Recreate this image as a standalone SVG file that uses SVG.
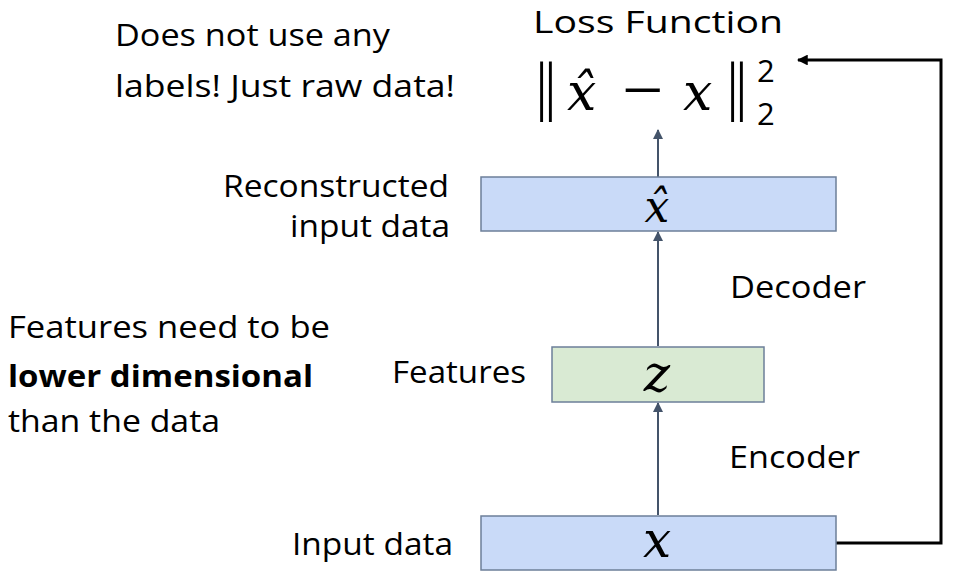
<svg xmlns="http://www.w3.org/2000/svg" width="970" height="582" viewBox="0 0 970 582">
<style>
.t{font-family:"Open Sans","Noto Sans",sans-serif;fill:#000;font-size:31px}
.m{font-family:"DejaVu Serif",serif;font-style:italic;fill:#000}
.box{stroke:#6c7f99;stroke-width:1.5}
.arr{stroke:#44546a;stroke-width:2;fill:none}
</style>
<defs>
<marker id="ah" viewBox="0 0 10 10" refX="9" refY="5" markerWidth="5" markerHeight="5" orient="auto" markerUnits="strokeWidth">
<path d="M0,0 L10,5 L0,10 z" fill="#44546a"/>
</marker>
<marker id="ahk" viewBox="0 0 10 10" refX="9" refY="5" markerWidth="3.6" markerHeight="3.6" orient="auto" markerUnits="strokeWidth">
<path d="M0,0 L10,5 L0,10 z" fill="#000"/>
</marker>
</defs>
<g id="connectors">
<line class="arr" x1="658" y1="515" x2="658" y2="403" marker-end="url(#ah)"/>
<line class="arr" x1="658" y1="346" x2="658" y2="232" marker-end="url(#ah)"/>
<line class="arr" x1="658" y1="177" x2="658" y2="130" marker-end="url(#ah)"/>
<path d="M836,543 H941 V60 H798" fill="none" stroke="#000" stroke-width="3" marker-end="url(#ahk)"/>
</g>
<g id="node-xhat">
<rect class="box" x="481" y="177" width="355" height="54" fill="#c9daf8"/>
<text class="m" x="657" y="222" font-size="44" text-anchor="middle">x̂</text>
</g>
<g id="node-z">
<rect class="box" x="552" y="347" width="212" height="55" fill="#d9ead3"/>
<text class="m" x="657" y="391" font-size="50" text-anchor="middle">z</text>
</g>
<g id="node-x">
<rect class="box" x="481" y="516" width="355" height="54" fill="#c9daf8"/>
<text class="m" x="657" y="557" font-size="50" text-anchor="middle">x</text>
</g>
<g id="loss">
<text class="t" x="533" y="33" font-size="38" textLength="250" lengthAdjust="spacingAndGlyphs">Loss Function</text>
<text x="535" y="108" font-family="Noto Sans,sans-serif" font-size="60" textLength="22" lengthAdjust="spacingAndGlyphs">‖</text>
<text class="m" x="567" y="110" font-size="52">x̂</text>
<text x="622" y="107" font-family="Liberation Sans,sans-serif" font-size="50" textLength="41" lengthAdjust="spacingAndGlyphs">−</text>
<text class="m" x="683" y="110" font-size="52">x</text>
<text x="726" y="108" font-family="Noto Sans,sans-serif" font-size="60" textLength="22" lengthAdjust="spacingAndGlyphs">‖</text>
<text class="t" x="757" y="82" font-size="42">2</text>
<text class="t" x="757" y="125" font-size="42">2</text>
</g>
<g id="labels">
<text class="t" x="115" y="46" textLength="275" lengthAdjust="spacingAndGlyphs">Does not use any</text>
<text class="t" x="115" y="97" textLength="340" lengthAdjust="spacingAndGlyphs">labels! Just raw data!</text>
<text class="t" x="223" y="197" textLength="226" lengthAdjust="spacingAndGlyphs">Reconstructed</text>
<text class="t" x="290" y="237" textLength="160" lengthAdjust="spacingAndGlyphs">input data</text>
<text class="t" x="730" y="298" textLength="136" lengthAdjust="spacingAndGlyphs">Decoder</text>
<text class="t" x="8" y="338" textLength="322" lengthAdjust="spacingAndGlyphs">Features need to be</text>
<text class="t" x="8" y="387" font-weight="bold" textLength="305" lengthAdjust="spacingAndGlyphs">lower dimensional</text>
<text class="t" x="8" y="432" textLength="212" lengthAdjust="spacingAndGlyphs">than the data</text>
<text class="t" x="392" y="383" textLength="134" lengthAdjust="spacingAndGlyphs">Features</text>
<text class="t" x="729" y="468" textLength="131" lengthAdjust="spacingAndGlyphs">Encoder</text>
<text class="t" x="292" y="555" textLength="161" lengthAdjust="spacingAndGlyphs">Input data</text>
</g>
</svg>
